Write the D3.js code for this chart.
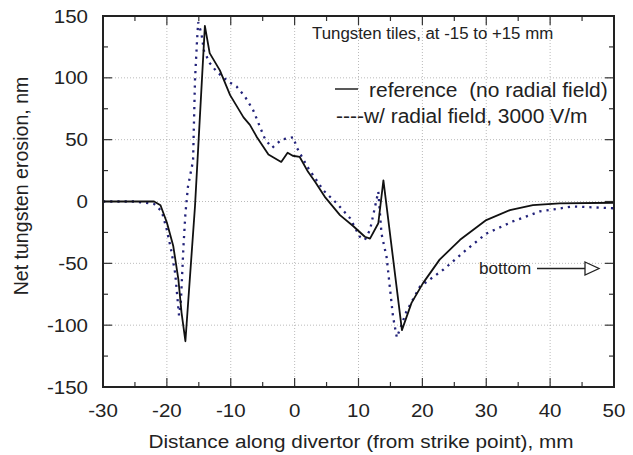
<!DOCTYPE html>
<html><head><meta charset="utf-8">
<script src="https://cdn.jsdelivr.net/npm/d3@7"></script>
<style>body{margin:0;background:#fff}svg{display:block}text{font-family:"Liberation Sans",Arial,sans-serif;white-space:pre}</style>
</head><body><div id="chart"></div>
<script>
// Data
const refX = [-30,-25,-22,-21,-20,-19,-18.2,-17.7,-17.1,-15.6,-14.05,-13.3,-11.7,-10.1,-8,-7,-5.9,-4.1,-2.1,-1.1,-0.3,0.8,2.1,3.2,4.7,7.1,9.2,11,11.8,13.1,13.9,16.8,18.3,20.1,22.7,25.9,30,33.7,37.3,41.5,50];
const refY = [0,0,0,-3,-17,-36,-63,-90,-113,-4,142,120,106,86,68,62,52,38,32,39.5,37,36,24,16,4,-11,-20,-28.5,-30,-17.6,17,-104,-82,-66,-47,-31,-15,-7,-3,-1.5,-1];
const radX = [-30,-25,-22,-20.8,-20,-19.3,-18.7,-18.1,-17.8,-17.4,-17.1,-16.7,-15.9,-15.6,-15.3,-15.1,-14.6,-14.2,-13.3,-12.2,-10.4,-9.1,-7.8,-6.5,-5.4,-4.6,-3.5,-2.05,-0.2,0.3,2,4.5,6.6,8.7,10.2,11,11.8,12.6,13.1,13.6,14.4,15.4,16,17.5,19.6,23.3,26.9,30,34.2,38.4,43.6,50];
const radY = [0,0,-2,-8,-23,-40,-58,-92,-80,-36,-10,12,33,98,128,145,136,122,112,105,97,93,85,74,60,50,43.5,50,52,44,28,9,-1.5,-13.6,-28.5,-31,-23,-4,8,-26,-45,-93,-110,-89,-69,-55,-39,-26,-16,-8,-4,-5.5];
const xTicks = [-30,-20,-10,0,10,20,30,40,50];
const yTicks = [-150,-100,-50,0,50,100,150];
const legendLabels = ["reference  (no radial field)", "----w/ radial field, 3000 V/m"];
const noteText = "Tungsten tiles, at -15 to +15 mm";
const arrowText = "bottom";
const xTitle = "Distance along divertor (from strike point), mm";
const yTitle = "Net tungsten erosion, nm";

const W = 633, H = 455;
const SX = 1.08; // horizontal stretch of the text in the reference
const m = {l:103, r:19, t:16, b:68};
const svg = d3.select("#chart").append("svg").attr("width", W).attr("height", H);
const x = d3.scaleLinear().domain([-30,50]).range([m.l, W-m.r]);
const y = d3.scaleLinear().domain([-150,150]).range([H-m.b, m.t]);
const x0 = x.range()[0], x1 = x.range()[1], y0 = y.range()[0], y1 = y.range()[1];

function label(px, py, txt, size, anchor, rot){
  return svg.append("text")
    .attr("transform", rot ? `translate(${px},${py}) rotate(-90) scale(${SX*0.93},1)` : `translate(${px},${py}) scale(${SX},1)`)
    .attr("text-anchor", anchor || "start").attr("font-size", size).attr("fill", "#222").text(txt);
}

// grid
const g = svg.append("g");
g.selectAll("line.gx").data(xTicks.slice(1,-1)).join("line")
  .attr("x1", d=>x(d)).attr("x2", d=>x(d)).attr("y1", y1).attr("y2", y0)
  .attr("stroke", "#aaa").attr("stroke-width", 0.8).attr("stroke-dasharray", "1,2");
g.selectAll("line.gy").data(yTicks.slice(1,-1)).join("line")
  .attr("y1", d=>y(d)).attr("y2", d=>y(d)).attr("x1", x0).attr("x2", x1)
  .attr("stroke", "#aaa").attr("stroke-width", 0.8).attr("stroke-dasharray", "1,2");

// ticks (inward, all sides)
const xMinor = d3.range(-25, 50, 10);
const yMinor = d3.range(-125, 150, 50);
const tk = svg.append("g").attr("stroke", "#333").attr("stroke-width", 1.2);
function xt(vals, len){
  tk.selectAll(null).data(vals).join("line").attr("x1", d=>x(d)).attr("x2", d=>x(d)).attr("y1", y0).attr("y2", y0-len);
  tk.selectAll(null).data(vals).join("line").attr("x1", d=>x(d)).attr("x2", d=>x(d)).attr("y1", y1).attr("y2", y1+len);
}
function yt(vals, len){
  tk.selectAll(null).data(vals).join("line").attr("y1", d=>y(d)).attr("y2", d=>y(d)).attr("x1", x0).attr("x2", x0+len);
  tk.selectAll(null).data(vals).join("line").attr("y1", d=>y(d)).attr("y2", d=>y(d)).attr("x1", x1).attr("x2", x1-len);
}
xt(xTicks, 9); xt(xMinor, 5); yt(yTicks, 9); yt(yMinor, 5);

// lines
const line = d3.line().x(d=>x(d[0])).y(d=>y(d[1]));
svg.append("path").datum(radX.map((v,i)=>[v,radY[i]])).attr("d", line)
  .attr("fill","none").attr("stroke","#23237a").attr("stroke-width",2.3)
  .attr("stroke-dasharray","2.2,5").attr("stroke-linecap","butt");
svg.append("path").datum(refX.map((v,i)=>[v,refY[i]])).attr("d", line)
  .attr("fill","none").attr("stroke","#111").attr("stroke-width",1.8).attr("stroke-linejoin","round");

// frame
svg.append("rect").attr("x", x0).attr("y", y1).attr("width", x1-x0).attr("height", y0-y1)
  .attr("fill","none").attr("stroke","#222").attr("stroke-width",2);

// tick labels
xTicks.forEach(d => label(x(d), y0+30, String(d), 19, "middle"));
yTicks.forEach(d => label(x0-15, y(d)+6.5, String(d), 19, "end"));

// titles
label(361, 448, xTitle, 19.2, "middle");
label(28, 186, yTitle, 19.5, "middle", true);

// annotations
label(312, 39, noteText, 15.6, "start");
svg.append("line").attr("x1",335).attr("x2",358).attr("y1",89).attr("y2",89).attr("stroke","#222").attr("stroke-width",1.5);
label(369, 96.5, legendLabels[0], 19.4, "start");
label(336, 122.5, legendLabels[1], 19.4, "start");

label(479, 274, arrowText, 15.8, "start");
svg.append("line").attr("x1",537).attr("x2",585).attr("y1",268.5).attr("y2",268.5).attr("stroke","#222").attr("stroke-width",1.3);
svg.append("path").attr("d","M585,262 L599,268.5 L585,275 Z").attr("fill","#fff").attr("stroke","#222").attr("stroke-width",1.3);
</script></body></html>
